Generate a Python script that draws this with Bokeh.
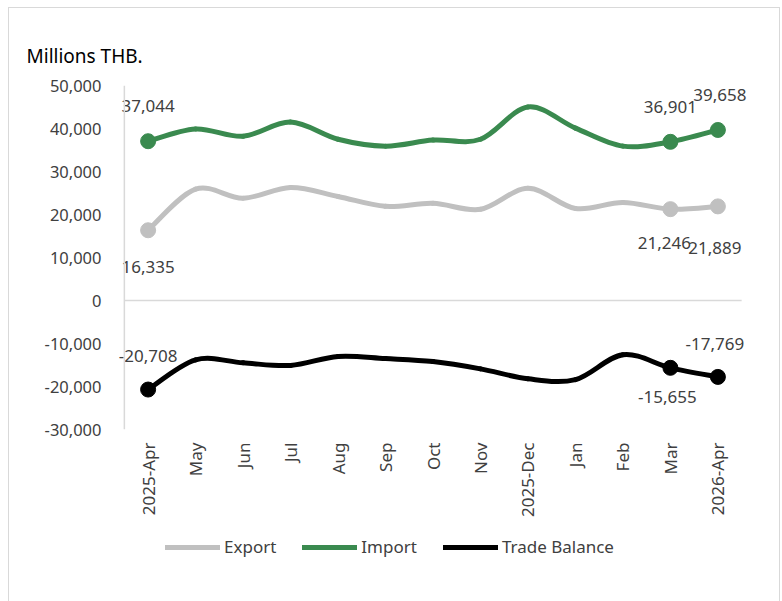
import math
from bokeh.plotting import figure
from bokeh.layouts import column
from bokeh.models import (FixedTicker, NumeralTickFormatter, Span, Legend, LegendItem,
                          ColumnDataSource, Title)
from bokeh.core.properties import value
from bokeh.embed import file_html
from bokeh.resources import INLINE

# ---- data ----
months = ["2025-Apr", "May", "Jun", "Jul", "Aug", "Sep", "Oct", "Nov",
          "2025-Dec", "Jan", "Feb", "Mar", "2026-Apr"]
export = [16335, 25900, 23800, 26300, 24200, 21900, 22600, 21200, 26100, 21400, 22800, 21246, 21889]
imports = [37044, 39900, 38200, 41500, 37500, 35900, 37300, 37500, 45000, 40100, 35900, 36901, 39658]
balance = [-20708, -13800, -14500, -15100, -13000, -13500, -14200, -15900, -18200, -18400, -12600, -15655, -17769]
y_ticks = [-30000, -20000, -10000, 0, 10000, 20000, 30000, 40000, 50000]
marked = [0, 11, 12]

FONT = "Noto Sans"
GREY_TXT = "#404040"
C_EXP = "#c0c0c0"
C_IMP = "#3a8a4f"
C_BAL = "#000000"
AX_GREY = "#d9d9d9"

W = 770
H1 = 520
H2 = 74

p = figure(width=W, height=H1, x_range=(-0.75, 12.75), y_range=(-30000, 50000),
           output_backend="svg", toolbar_location=None,
           min_border_left=103, min_border_right=26, min_border_top=77, min_border_bottom=99)
p.outline_line_color = None
p.xgrid.visible = False
p.ygrid.visible = False
p.background_fill_color = "white"

p.add_layout(Title(text="Millions THB.", align="left", offset=-86,
                   text_font=FONT, text_font_size="19px", text_font_style="normal",
                   text_color="#000000", standoff=33), "above")

# zero line and vertical value-axis line
p.segment(x0=[-0.5], y0=[0], x1=[12.5], y1=[0], line_color=AX_GREY, line_width=1.5)
p.add_layout(Span(location=-0.5, dimension="height", line_color=AX_GREY, line_width=1.5))


def smooth(vals, color):
    n = len(vals)
    xs = list(range(n))
    x0, y0, x1, y1, cx0, cy0, cx1, cy1 = [], [], [], [], [], [], [], []
    for i in range(n - 1):
        p0 = max(i - 1, 0)
        p3 = min(i + 2, n - 1)
        x0.append(xs[i]); y0.append(vals[i])
        x1.append(xs[i + 1]); y1.append(vals[i + 1])
        cx0.append(xs[i] + (xs[i + 1] - xs[p0]) / 6)
        cy0.append(vals[i] + (vals[i + 1] - vals[p0]) / 6)
        cx1.append(xs[i + 1] - (xs[p3] - xs[i]) / 6)
        cy1.append(vals[i + 1] - (vals[p3] - vals[i]) / 6)
    src = ColumnDataSource(dict(x0=x0, y0=y0, x1=x1, y1=y1, cx0=cx0, cy0=cy0, cx1=cx1, cy1=cy1))
    p.bezier(x0="x0", y0="y0", x1="x1", y1="y1", cx0="cx0", cy0="cy0", cx1="cx1", cy1="cy1",
             source=src, line_color=color, line_width=5, line_cap="round")
    p.scatter([i for i in marked], [vals[i] for i in marked], size=15,
              fill_color=color, line_color=color)


smooth(export, C_EXP)
smooth(imports, C_IMP)
smooth(balance, C_BAL)


def labels(vals, idx, offsets, xoffs):
    src = ColumnDataSource(dict(x=idx, y=[vals[i] for i in idx],
                                t=[f"{vals[i]:,}" for i in idx], yo=offsets, xo=xoffs))
    p.text(x="x", y="y", text="t", source=src, y_offset="yo", x_offset="xo",
           text_align="center", text_baseline="middle", text_font=value(FONT),
           text_font_size="17px", text_color=GREY_TXT)


labels(imports, [0, 11, 12], [-35, -35, -35], [0, 0, 2])
labels(export, [0, 11, 12], [37, 34, 42], [0, -6, -3])
labels(balance, [0, 11, 12], [-34, 29, -33], [0, -3, -3])

# axes
p.yaxis.ticker = FixedTicker(ticks=y_ticks)
p.yaxis.formatter = NumeralTickFormatter(format="0,0")
p.yaxis.axis_line_color = None
p.yaxis.major_tick_line_color = None
p.yaxis.minor_tick_line_color = None
p.yaxis.major_tick_out = 0
p.yaxis.minor_tick_out = 0
p.yaxis.major_label_standoff = 11
p.yaxis.major_label_text_font = FONT
p.yaxis.major_label_text_font_size = "16.5px"
p.yaxis.major_label_text_color = GREY_TXT

p.xaxis.ticker = FixedTicker(ticks=list(range(len(months))))
p.xaxis.major_label_overrides = {i: m for i, m in enumerate(months)}
p.xaxis.major_label_orientation = math.pi / 2
p.xaxis.axis_line_color = None
p.xaxis.major_tick_line_color = None
p.xaxis.minor_tick_line_color = None
p.xaxis.major_tick_out = 0
p.xaxis.minor_tick_out = 0
p.xaxis.major_label_standoff = 13
p.xaxis.major_label_text_font = FONT
p.xaxis.major_label_text_font_size = "17px"
p.xaxis.major_label_text_color = GREY_TXT

# legend in a strip below the chart (series drawn out of this strip's view,
# only their legend swatches show)
q = figure(width=W, height=H2, x_range=(0, 1), y_range=(0, 1),
           x_axis_location=None, y_axis_location=None,
           output_backend="svg", toolbar_location=None,
           min_border_left=0, min_border_right=0, min_border_top=0, min_border_bottom=0)
q.grid.visible = False
q.outline_line_color = None
xs_all = list(range(len(months)))
le = q.line(x=xs_all, y=export, line_color=C_EXP, line_width=5, line_cap="round")
li = q.line(x=xs_all, y=imports, line_color=C_IMP, line_width=5, line_cap="round")
lb = q.line(x=xs_all, y=balance, line_color=C_BAL, line_width=5, line_cap="round")
legend = Legend(items=[LegendItem(label="Export", renderers=[le]),
                       LegendItem(label="Import", renderers=[li]),
                       LegendItem(label="Trade Balance", renderers=[lb])],
                orientation="horizontal", location=(53, 44),
                glyph_width=55, glyph_height=12, spacing=26, label_standoff=4,
                label_text_font=FONT, label_text_font_size="17px", label_text_color=GREY_TXT,
                border_line_color=None, background_fill_alpha=0, margin=0, padding=4)
q.add_layout(legend, "center")

layout = column(p, q, spacing=0, margin=(7, 0, 0, 8),
                styles={"border": "1px solid #d9d9d9"})

open("out.html", "w").write(file_html(layout, INLINE))
